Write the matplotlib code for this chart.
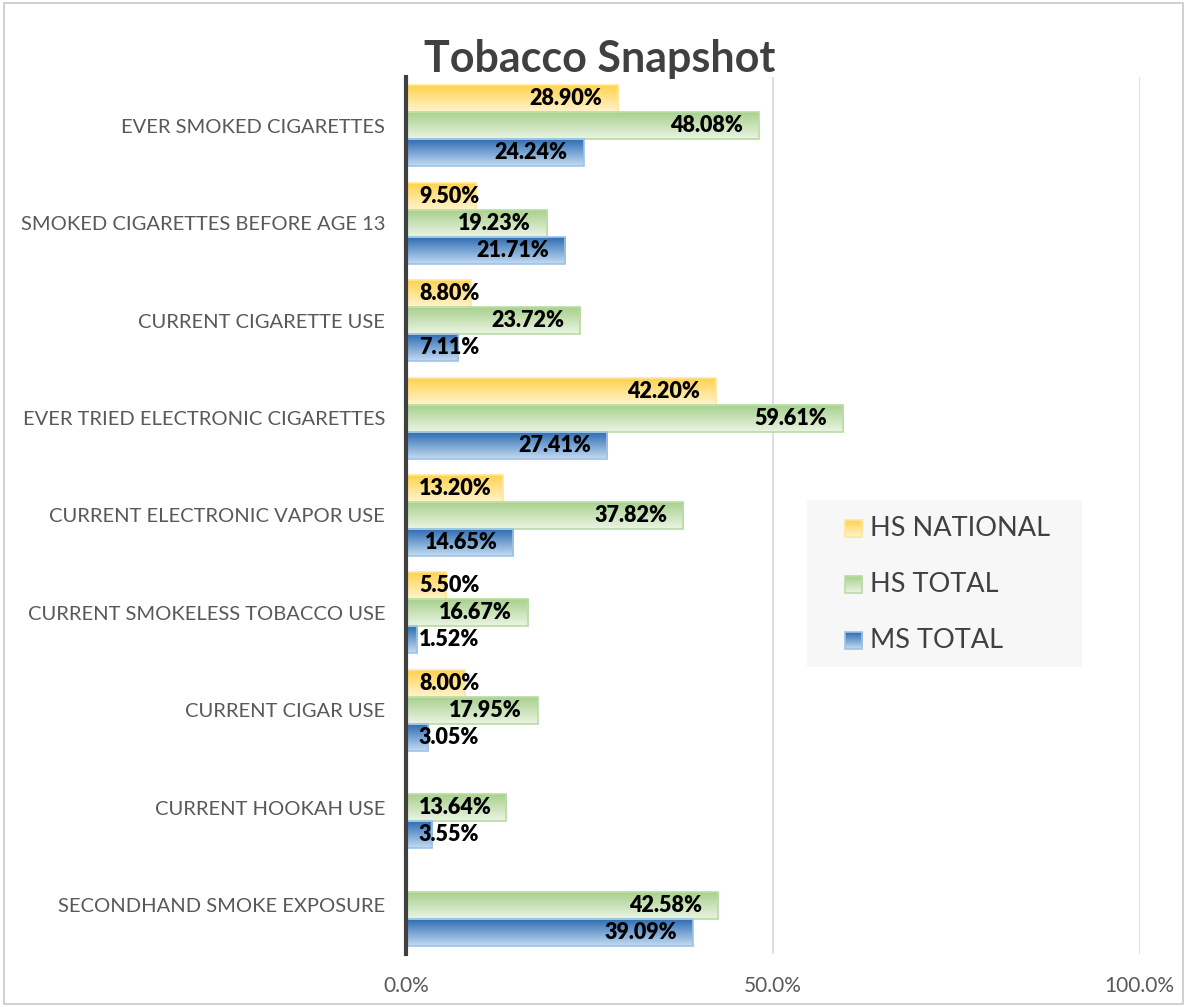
import numpy as np
import matplotlib
matplotlib.use("Agg")
from matplotlib import pyplot as plt
from matplotlib.colors import LinearSegmentedColormap
from matplotlib.patches import Rectangle
from matplotlib.transforms import offset_copy

plt.rcParams['font.family'] = ['Lato', 'DejaVu Sans']

categories = [
    "EVER SMOKED CIGARETTES",
    "SMOKED CIGARETTES BEFORE AGE 13",
    "CURRENT CIGARETTE USE",
    "EVER TRIED ELECTRONIC CIGARETTES",
    "CURRENT ELECTRONIC VAPOR USE",
    "CURRENT SMOKELESS TOBACCO USE",
    "CURRENT CIGAR USE",
    "CURRENT HOOKAH USE",
    "SECONDHAND SMOKE EXPOSURE",
]
hs_national = [28.90, 9.50, 8.80, 42.20, 13.20, 5.50, 8.00, None, None]
hs_total = [48.08, 19.23, 23.72, 59.61, 37.82, 16.67, 17.95, 13.64, 42.58]
ms_total = [24.24, 21.71, 7.11, 27.41, 14.65, 1.52, 3.05, 3.55, 39.09]
series_names = ["HS NATIONAL", "HS TOTAL", "MS TOTAL"]
x_ticks = [0, 50, 100]
x_tick_labels = ["0.0%", "50.0%", "100.0%"]

# (top colour, bottom colour, edge colour)
styles = [
    ("#FFD34E", "#FFF3CF", "#FFE699"),
    ("#A9D18E", "#EAF4E3", "#B9DCA4"),
    ("#2E6DB4", "#C3DBF1", "#9DC3E6"),
]

fig = plt.figure(figsize=(11.87, 10.07), dpi=100)
fig.patch.set_facecolor("white")
fig.add_artist(Rectangle((0.003, 0.003), 0.994, 0.994, transform=fig.transFigure,
                         fill=False, edgecolor="#c8c8c8", linewidth=1.2))

ax = fig.add_axes([0.342, 0.0526, 0.618, 0.871])
ax.set_facecolor("none")

n = len(categories)
bar_h = 0.277
ys = np.arange(n)


def gradient_bar(axis, x0, x1, yc, h, top, bottom, edge):
    cmap = LinearSegmentedColormap.from_list("g", [top, bottom])
    grad = np.linspace(0, 1, 64).reshape(-1, 1)
    im = axis.imshow(grad, cmap=cmap, aspect="auto", origin="upper",
                     extent=(x0, x1, yc + h / 2, yc - h / 2), zorder=2,
                     interpolation="bicubic")
    rect = Rectangle((x0, yc - h / 2), x1 - x0, h, facecolor="none",
                     edgecolor=edge, linewidth=1.2, zorder=3)
    axis.add_patch(rect)
    im.set_clip_path(rect)


labels = []
for k, vals in enumerate([hs_national, hs_total, ms_total]):
    top, bottom, edge = styles[k]
    for i, v in enumerate(vals):
        if v is None:
            continue
        yc = ys[i] + (k - 1) * bar_h
        gradient_bar(ax, 0, v, yc, bar_h, top, bottom, edge)
        tr = offset_copy(ax.transData, fig=fig, x=-16, y=0, units="dots")
        t = ax.text(v, yc, f"{v:.2f}%", transform=tr, ha="right", va="center",
                    fontsize=15.5, fontweight="heavy", color="black", zorder=5)
        labels.append(t)

ax.set_xlim(0, 100)
ax.set_ylim(n - 0.5, -0.5)
ax.set_yticks(ys)
ax.set_yticklabels(categories, fontsize=14.5, color="#595959")
ax.set_xticks(x_ticks)
ax.set_xticklabels(x_tick_labels, fontsize=15, color="#595959")
ax.tick_params(length=0, axis="y", pad=15)
ax.tick_params(length=0, axis="x", pad=16)
for s in ["top", "right", "bottom"]:
    ax.spines[s].set_visible(False)
ax.spines["left"].set_color("#404040")
ax.spines["left"].set_linewidth(3)
ax.spines["left"].set_zorder(6)
for xv in x_ticks[1:]:
    ax.axvline(xv, color="#d9d9d9", linewidth=1.2, zorder=1)

# push labels right when they would run into the axis line
fig.canvas.draw()
renderer = fig.canvas.get_renderer()
axis_px = ax.transData.transform((0, 0))[0]
for t in labels:
    bb = t.get_window_extent(renderer)
    if bb.x0 < axis_px + 13:
        t.set_transform(offset_copy(t.get_transform(), fig=fig,
                                    x=axis_px + 13 - bb.x0, y=0, units="dots"))

fig.text(0.505, 0.941, "Tobacco Snapshot", ha="center", va="center",
         fontsize=31, fontweight="bold", color="#404040")

# legend
lax = fig.add_axes([0.680, 0.3376, 0.2317, 0.1658])
lax.set_facecolor("#f7f7f7")
for s in lax.spines.values():
    s.set_visible(False)
lax.set_xticks([])
lax.set_yticks([])
for k, name in enumerate(series_names):
    top, bottom, edge = styles[k]
    yc = 28 + 56 * k
    gradient_bar(lax, 38, 55, yc, 17, top, bottom, edge)
    lax.text(63, yc, name, ha="left", va="center", fontsize=19.5, color="#404040")
lax.set_xlim(0, 275)
lax.set_ylim(167, 0)

fig.savefig("out.png", dpi=100)
